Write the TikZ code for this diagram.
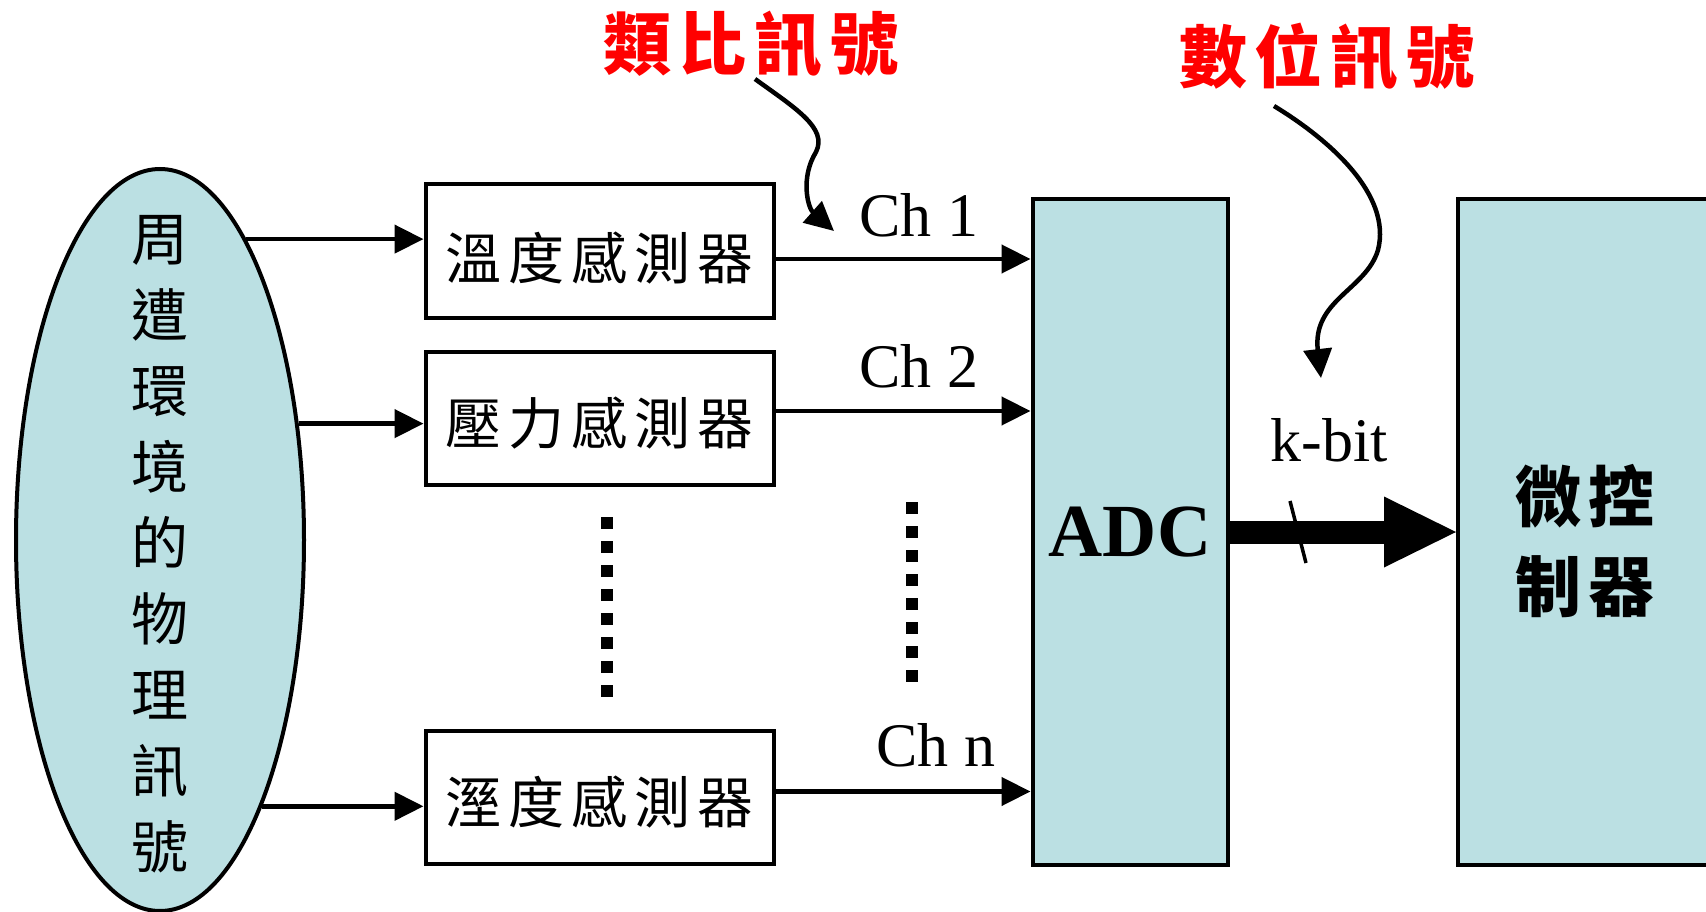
\documentclass[tikz,border=0pt]{standalone}
\usepackage{fontspec}
\setmainfont{Liberation Serif}
\newfontfamily\cjk{Noto Sans CJK TC}
\usetikzlibrary{arrows.meta,shapes.geometric}
\definecolor{boxfill}{RGB}{187,224,227}
\definecolor{lblred}{RGB}{255,0,0}
\newcommand\cg{\kern7pt}
\newcommand\cgr{\kern8pt}
\begin{document}
\begin{tikzpicture}[x=1pt,y=-1pt,
  arr/.style={line width=4.5pt,-{Triangle[length=29pt,width=28pt]}},
  sensor/.style={draw,line width=4pt,minimum width=348pt,minimum height=133pt,inner sep=0pt},
  stxt/.style={inner sep=0pt,font=\cjk\fontsize{56}{60}\selectfont},
  blk/.style={draw,line width=4pt,fill=boxfill,inner sep=0pt},
  chlbl/.style={font=\fontsize{62}{70}\selectfont,inner sep=0pt},
  redlbl/.style={text=lblred,font=\cjk\bfseries\fontsize{68}{70}\selectfont,inner sep=0pt},
  dotcol/.style={line width=12pt,dash pattern=on 12pt off 12pt}
]
\useasboundingbox (0,0) rectangle (1706,912);

% environment ellipse
\node[ellipse,draw,line width=4pt,fill=boxfill,minimum width=288pt,minimum height=742pt,inner sep=0pt] (ell) at (160,540) {};
\node[font=\cjk\fontsize{57}{76}\selectfont,align=center,inner sep=0pt] (elltxt) at (160,544)
  {周\\遭\\環\\境\\的\\物\\理\\訊\\號};

% sensors
\node[sensor] (s1) at (599.5,251) {};
\node[sensor] (s2) at (599.5,418) {};
\node[sensor] (s3) at (599.5,797.5) {};
\node[stxt] (t1) at ([yshift=-7pt]s1.center) {溫\cg 度\cg 感\cg 測\cg 器};
\node[stxt] (t2) at ([yshift=-5pt]s2.center) {壓\cg 力\cg 感\cg 測\cg 器};
\node[stxt] (t3) at ([yshift=-5pt]s3.center) {溼\cg 度\cg 感\cg 測\cg 器};

% ADC and microcontroller
\node[blk,minimum width=195pt,minimum height=665pt,font=\bfseries\fontsize{75}{80}\selectfont] (adc) at (1130,532) {ADC};
\node[blk,minimum width=254pt,minimum height=665pt] (mc) at (1585,532) {};
\node[align=center,inner sep=0pt,font=\cjk\bfseries\fontsize{66}{90}\selectfont] (mctxt) at ([yshift=-9pt]mc.center)
  {微\kern7pt 控\\制\kern7pt 器};

% ellipse -> sensors
\draw[arr] (ell.74) -- (ell.74 -| s1.west);
\draw[arr] (ell.40) -- (ell.40 -| s2.west);
\draw[arr] (ell.-69) -- (ell.-69 -| s3.west);

% sensors -> ADC
\draw[arr] ([yshift=-8pt]s1.east) -- ([yshift=-8pt]s1.east -| adc.west);
\draw[arr] ([yshift=7pt]s2.east) -- ([yshift=7pt]s2.east -| adc.west);
\draw[arr] ([yshift=6pt]s3.east) -- ([yshift=6pt]s3.east -| adc.west);

% channel labels
\node[chlbl] (c1) at (919,215) {Ch 1};
\node[chlbl] (c2) at (919,366) {Ch 2};
\node[chlbl] (cn) at (936,745) {Ch n};

% dotted columns
\draw[dotcol] (607,517) -- (607,697);
\draw[dotcol] (912,502) -- (912,682);

% big bus arrow
\draw[line width=23pt] (adc.east) -- ([xshift=-72pt]mc.west);
\fill ([xshift=-72pt,yshift=35.5pt]mc.west) -- (mc.west) -- ([xshift=-72pt,yshift=-35.5pt]mc.west) -- cycle;
\draw[line width=3.5pt] (1290,501) -- (1306,563);
\node[chlbl] (kb) at (1329,440) {k-bit};

% red labels and curved pointers
\node[redlbl] (lbl1) at (751,44) {類\cgr 比\cgr 訊\cgr 號};
\node[redlbl] (lbl2) at (1327,57) {數\cgr 位\cgr 訊\cgr 號};
\coordinate (a1s) at (755,79);
\coordinate (a1e) at (834,231);
\draw[arr] (a1s) .. controls (795,108) and (828,128) .. (816,152) .. controls (800,178) and (808,208) .. (a1e);
\coordinate (a2s) at (1274,106);
\coordinate (a2e) at (1321,378);
\draw[arr] (a2s) .. controls (1330,140) and (1392,195) .. (1378,250) .. controls (1366,290) and (1312,300) .. (a2e);
\end{tikzpicture}
\end{document}
